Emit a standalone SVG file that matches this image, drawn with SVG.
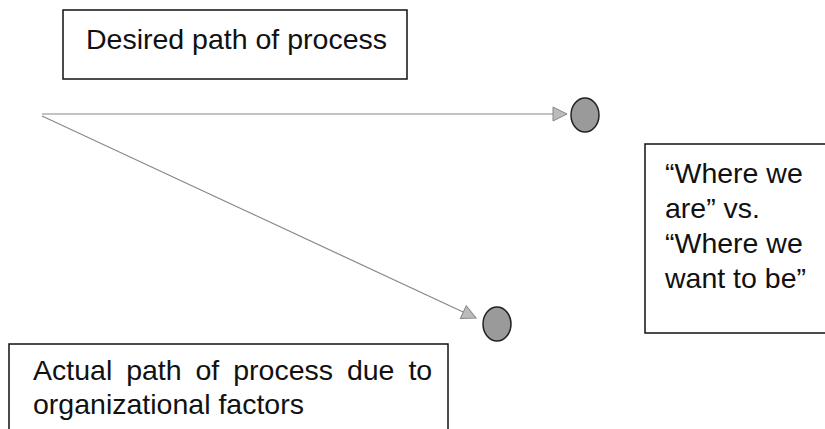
<svg xmlns="http://www.w3.org/2000/svg" width="825" height="429" viewBox="0 0 825 429">
<style>
.box{fill:#fff;stroke:#111;stroke-width:1.5}
.t{font-family:"Liberation Sans",Arial,sans-serif;font-size:28.5px;fill:#111}
.conn{stroke:#888;stroke-width:1.2;fill:none}
.dot{fill:#9a9a9a;stroke:#222;stroke-width:1.5}
</style>
<defs>
<marker id="ah" viewBox="0 0 16 16" refX="15" refY="8" markerWidth="16" markerHeight="16" markerUnits="userSpaceOnUse" orient="auto">
<path d="M1,1 L15,8 L1,15 Z" fill="#bbb" stroke="#888" stroke-width="1"/>
</marker>
</defs>
<rect width="825" height="429" fill="#fff"/>
<g id="connectors">
<line class="conn" x1="42" y1="114" x2="567" y2="114" marker-end="url(#ah)"/>
<line class="conn" x1="42" y1="116" x2="476" y2="318" marker-end="url(#ah)"/>
</g>
<g id="desired">
<rect class="box" x="63" y="10" width="344" height="69"/>
<text class="t" x="86" y="49">Desired path of process</text>
</g>
<g id="target">
<ellipse class="dot" cx="585" cy="115" rx="14" ry="17"/>
</g>
<g id="actual-end">
<ellipse class="dot" cx="497" cy="324" rx="14" ry="17"/>
</g>
<g id="where">
<rect class="box" x="645" y="144" width="190" height="189"/>
<text class="t" x="665" y="183">“Where we</text>
<text class="t" x="665" y="218">are” vs.</text>
<text class="t" x="665" y="253">“Where we</text>
<text class="t" x="665" y="288">want to be”</text>
</g>
<g id="actual">
<rect class="box" x="9" y="344" width="439" height="100"/>
<text class="t" x="33" y="380" word-spacing="6">Actual path of process due to</text>
<text class="t" x="33" y="414">organizational factors</text>
</g>
</svg>
